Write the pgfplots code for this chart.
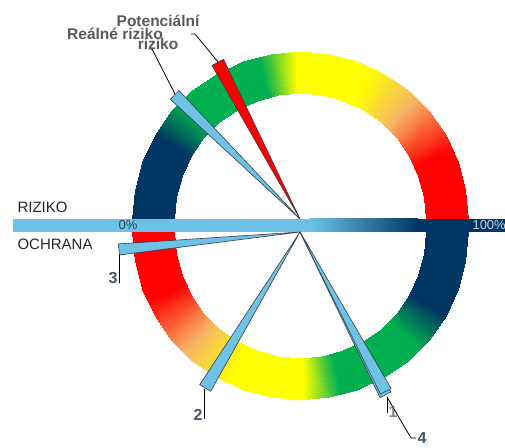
\documentclass[border=0pt]{standalone}
\usepackage{pgfplots}
\pgfplotsset{compat=1.18}
\usepackage{fontspec}
\setmainfont{Liberation Sans}

\definecolor{gblue}{RGB}{0,54,99}
\definecolor{barlight}{RGB}{110,194,230}
\definecolor{needleline}{RGB}{55,60,70}
\definecolor{labelgray}{RGB}{89,89,89}
\definecolor{numblue}{RGB}{68,84,106}
\definecolor{pcttext}{RGB}{200,210,224}

\pgfplotsset{
  gauge/.style={
    width=505pt, height=447pt, scale only axis, hide axis,
    xmin=-300, xmax=205,
    at={(0,0)}, anchor=south west,
    colormap={gauge}{rgb255(0pt)=(0,54,99); rgb255(30pt)=(0,54,99);
      rgb255(45pt)=(0,176,80); rgb255(76pt)=(0,176,80);
      rgb255(89pt)=(255,255,0); rgb255(115pt)=(255,255,0);
      rgb255(134pt)=(245,182,100); rgb255(156pt)=(255,0,0);
      rgb255(180pt)=(255,0,0)},
    point meta min=0, point meta max=180,
  },
  ring/.style={surf, shader=interp, data cs=polar, mesh/rows=2, point meta=explicit},
  needle/.style={data cs=polar, draw=needleline, line width=0.6pt},
  leader/.style={black, line width=0.8pt},
}
\tikzset{
  lab/.style={text=labelgray, font=\fontsize{15.5}{18}\selectfont\bfseries},
  num/.style={text=numblue, font=\fontsize{16}{18}\selectfont\bfseries},
}

\begin{document}
\begin{tikzpicture}
\useasboundingbox (0,0) rectangle (505pt,447pt);

% upper half: RIZIKO
\begin{axis}[gauge, ymin=-228, ymax=219]
  \addplot[ring] coordinates {
    (180,126)[0] (170,126)[10] (160,126)[20] (150,126)[30] (140,126)[40]
    (130,126)[50] (120,126)[60] (110,126)[70] (100,126)[80] (90,126)[90]
    (80,126)[100] (70,126)[110] (60,126)[120] (50,126)[130] (40,126)[140]
    (30,126)[150] (20,126)[160] (10,126)[170] (0,126)[180]
    (180,168)[0] (170,168)[10] (160,168)[20] (150,168)[30] (140,168)[40]
    (130,168)[50] (120,168)[60] (110,168)[70] (100,168)[80] (90,168)[90]
    (80,168)[100] (70,168)[110] (60,168)[120] (50,168)[130] (40,168)[140]
    (30,168)[150] (20,168)[160] (10,168)[170] (0,168)[180]
  };

  % scale bar 0% .. 100%
  \addplot[draw=none, fill=barlight] coordinates {(-287,0) (12,0) (12,-13) (-287,-13)} --cycle;
  \addplot[draw=none, left color=barlight, right color=gblue] coordinates {(10,0) (118,0) (118,-13) (10,-13)} --cycle;
  \addplot[draw=none, fill=gblue] coordinates {(116,0) (205,0) (205,-13) (116,-13)} --cycle;

  % needles
  \addplot[needle, fill=barlight] coordinates {(0,0) (133.3,176.5) (137.3,176.5)} --cycle;
  \addplot[needle, fill=red] coordinates {(0,0) (115.6,177) (119.8,177)} --cycle;

  \addplot[leader] coordinates {(-82,157) (-105,185) (-109,185)};
  \addplot[leader] coordinates {(-125,125) (-148,170) (-151,170)};

  \node[lab] at (axis cs:-142,198) {Potenciální};
  \node[lab] at (axis cs:-185,185) {Reálné riziko};
  \node[lab] at (axis cs:-142,175) {riziko};

  \node[anchor=west, text=black!85, font=\fontsize{15}{18}\selectfont] at (axis cs:-286,12) {RIZIKO};
  \node[anchor=west, text=black!85, font=\fontsize{15}{18}\selectfont] at (axis cs:-286,-25) {OCHRANA};
  \node[text=numblue!80!black, font=\fontsize{13}{15}\selectfont] at (axis cs:-172,-6.5) {0\%};
  \node[anchor=west, text=pcttext, font=\fontsize{13}{15}\selectfont] at (axis cs:169,-6.5) {100\%};
\end{axis}

% lower half: OCHRANA
\begin{axis}[gauge, ymin=-215, ymax=232]
  \addplot[ring] coordinates {
    (0,126)[0] (-10,126)[10] (-20,126)[20] (-30,126)[30] (-40,126)[40]
    (-50,126)[50] (-60,126)[60] (-70,126)[70] (-80,126)[80] (-90,126)[90]
    (-100,126)[100] (-110,126)[110] (-120,126)[120] (-130,126)[130] (-140,126)[140]
    (-150,126)[150] (-160,126)[160] (-170,126)[170] (-180,126)[180]
    (0,168)[0] (-10,168)[10] (-20,168)[20] (-30,168)[30] (-40,168)[40]
    (-50,168)[50] (-60,168)[60] (-70,168)[70] (-80,168)[80] (-90,168)[90]
    (-100,168)[100] (-110,168)[110] (-120,168)[120] (-130,168)[130] (-140,168)[140]
    (-150,168)[150] (-160,168)[160] (-170,168)[170] (-180,168)[180]
  };

  \addplot[needle, fill=barlight] coordinates {(0,0) (-176.25,182) (-172.75,182)} --cycle;
  \addplot[needle, fill=barlight] coordinates {(0,0) (-123.3,182.6) (-119.3,182.6)} --cycle;
  \addplot[needle, fill=barlight] coordinates {(0,0) (-64.2,184) (-60.4,184)} --cycle;
  \addplot[needle, fill=barlight] coordinates {(0,0) (-63.6,181) (-59.8,181)} --cycle;

  \addplot[leader] coordinates {(-181,-23) (-181,-51)};
  \addplot[leader] coordinates {(-96,-157) (-96,-187)};
  \addplot[leader] coordinates {(87,-165) (87,-181)};
  \addplot[leader] coordinates {(87,-165) (111,-206) (116,-206)};

  \node[num] at (axis cs:-187,-46) {3};
  \node[num] at (axis cs:-102,-183) {2};
  \node[num, opacity=0.7] at (axis cs:93,-180) {1};
  \node[num] at (axis cs:122,-206) {4};
\end{axis}
\end{tikzpicture}
\end{document}
